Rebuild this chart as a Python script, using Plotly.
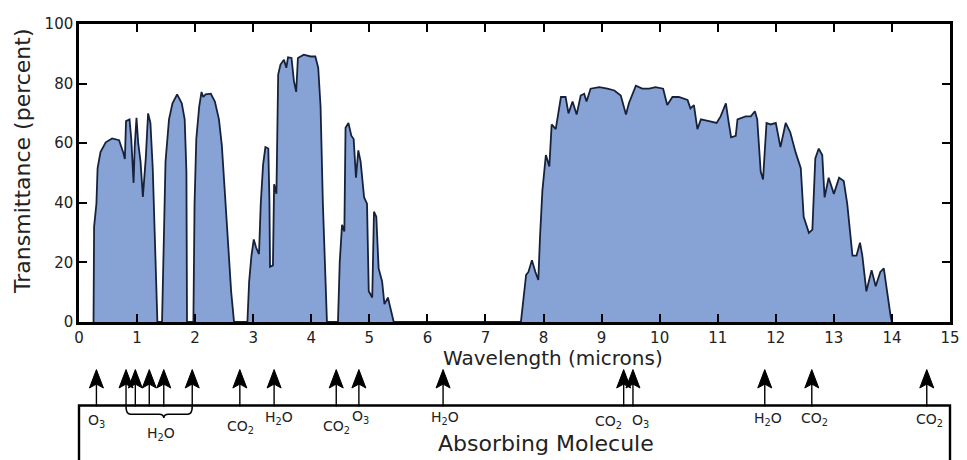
import plotly.graph_objects as go

# ---------------- data ----------------
wavelength_um = [
    0.25, 0.26, 0.30, 0.32, 0.37, 0.46, 0.57, 0.69, 0.76, 0.79, 0.81, 0.87, 0.90, 0.94, 0.96, 0.99,
    1.02, 1.06, 1.10, 1.15, 1.19, 1.23, 1.27, 1.30, 1.33, 1.35,
    1.43, 1.46, 1.49, 1.55, 1.61, 1.69, 1.77, 1.82, 1.85, 1.86,
    1.97, 1.99, 2.02, 2.07, 2.11, 2.14, 2.18, 2.27, 2.34, 2.41, 2.46, 2.51, 2.57, 2.62, 2.67,
    2.90, 2.93, 2.97, 3.01, 3.05, 3.10, 3.13, 3.17, 3.21, 3.26, 3.28, 3.29, 3.34, 3.36, 3.40,
    3.43, 3.47, 3.53, 3.57, 3.60, 3.66, 3.70, 3.74, 3.77, 3.87, 3.99, 4.07, 4.12, 4.16, 4.20,
    4.25, 4.27,
    4.46, 4.49, 4.53, 4.57, 4.59, 4.64, 4.69, 4.73, 4.77, 4.81, 4.85, 4.91, 4.96, 4.99, 5.05,
    5.08, 5.12, 5.16, 5.22, 5.26, 5.32, 5.38, 5.42,
    7.61, 7.70, 7.74, 7.80, 7.86, 7.91, 7.94, 7.98, 8.04, 8.10, 8.14, 8.21, 8.30, 8.38, 8.43,
    8.50, 8.57, 8.64, 8.70, 8.74, 8.81, 8.96, 9.10, 9.22, 9.33, 9.42, 9.47, 9.59, 9.70, 9.82,
    9.93, 10.06, 10.13, 10.22, 10.33, 10.48, 10.53, 10.59, 10.65, 10.71, 10.85, 10.98, 11.05,
    11.14, 11.19, 11.23, 11.31, 11.34, 11.48, 11.57, 11.64, 11.68, 11.74, 11.78, 11.84, 11.91,
    12.00, 12.08, 12.17, 12.25, 12.34, 12.43, 12.48, 12.57, 12.63, 12.68, 12.74, 12.80, 12.84,
    12.91, 13.00, 13.09, 13.17, 13.23, 13.32, 13.39, 13.45, 13.49, 13.56, 13.65, 13.72, 13.80,
    13.86, 13.92, 13.98, 14.00,
]
transmittance_pct = [
    0, 32, 39.7, 51.6, 57, 60.3, 61.6, 61, 57, 54.7, 67.4, 68, 61.4, 46.7, 59, 68.5,
    60, 53.8, 42, 55, 70, 66.8, 51.6, 28.8, 7, 0,
    0, 28.8, 53.8, 68, 73.4, 76.4, 73.4, 68, 50.5, 0,
    0, 39.7, 61.4, 72.3, 77.2, 75.5, 76.4, 76.6, 74, 68, 59.2, 44, 26.6, 10.3, 0,
    0, 13.6, 22.3, 27.7, 25, 22.8, 39.7, 52.7, 58.7, 58.2, 40, 18.5, 19, 46.2, 43,
    83, 86.4, 88, 85.3, 88.8, 88.6, 81, 77.2, 88.6, 89.7, 89.1, 89.1, 85.3, 72.3, 39.7,
    7, 0,
    0, 20, 32.6, 30.4, 65.2, 66.8, 62.5, 61.4, 48.4, 57.6, 53.8, 41.8, 39.7, 10.3, 8.2,
    37, 35.3, 18, 13.6, 6, 8.2, 2.7, 0,
    0, 15.8, 16.8, 20.7, 16.8, 14.1, 28.8, 44, 56, 52.2, 66.3, 64.7, 75.5, 75.5, 70,
    74, 69.6, 76, 76.6, 74, 78.3, 78.8, 78.3, 77.7, 76, 69.6, 73.4, 79.3, 78.3, 78.3,
    78.8, 78.3, 72.8, 75.5, 75.5, 74.5, 71.7, 72.8, 64.7, 68, 67.4, 66.8, 69,
    73.4, 66.8, 62, 62.5, 68, 69, 69, 70.7, 68, 50.5, 47.8, 66.8, 66.3,
    66.8, 58.7, 66.8, 63.6, 57, 51.6, 35.3, 29.9, 31, 54.9, 58.2, 56, 41.8,
    48.4, 43, 48.4, 47.3, 39.7, 22.3, 22.3, 26.6, 22.3, 10.3, 17.4, 12, 16.8,
    18, 9.2, 1.6, 0,
]

x_ticks = list(range(0, 16))
y_ticks = [0, 20, 40, 60, 80, 100]

absorber_wl = [0.30, 0.81, 0.97, 1.21, 1.46, 1.95, 2.77, 3.36, 4.43, 4.82,
               6.27, 9.38, 9.54, 11.81, 12.62, 14.60]
absorber_mol = ["O3", "H2O", "H2O", "H2O", "H2O", "H2O", "CO2", "H2O", "CO2", "O3",
                "H2O", "CO2", "O3", "H2O", "CO2", "CO2"]
h2o_group = [1, 2, 3, 4, 5]          # arrows joined by the brace
h2o_group_tip = 4                    # arrow where the brace points down

# ---------------- layout helpers ----------------
# page body has an 8px margin, so the figure is drawn 8px right/down in the window
W, H = 959, 452
ML, MR, MT, MB = 71, 16, 7, 138
WIN_PLOT_BOTTOM = 322   # window row of y=0
WIN_PLOT_LEFT = 79      # window column of x=0
PLOT_H = H - MT - MB
PLOT_W = W - ML - MR


def py(p):           # window pixel row -> paper y
    return (WIN_PLOT_BOTTOM - p) / PLOT_H


def px(p):           # window pixel column -> paper x
    return (p - WIN_PLOT_LEFT) / PLOT_W


UNIT_PX = PLOT_W / 15.0   # pixels per micron


formula = {"O3": "O<sub>3</sub>", "H2O": "H<sub>2</sub>O", "CO2": "CO<sub>2</sub>"}
# per-arrow label placement (x shift px, label row px); None = labelled by brace
label_style = [(0, 424), None, None, None, None, None, (1, 430), (5, 421), (0, 430), (2, 420),
               (2, 421), (-15, 425), (8, 424), (3, 422), (3, 422), (3, 423)]

FONT = "DejaVu Sans, Liberation Sans, Arial, sans-serif"
TXT = "#222222"

fig = go.Figure()
fig.add_trace(go.Scatter(
    x=wavelength_um, y=transmittance_pct, mode="lines",
    line=dict(color="#17223a", width=1.8),
    fill="tozeroy", fillcolor="#87a3d6", hoverinfo="skip", showlegend=False,
))

annotations = []
shapes = []

# arrows: shaft + filled notched head
head_half = 7 / UNIT_PX
for wl in absorber_wl:
    shapes.append(dict(type="line", xref="x", yref="paper", x0=wl, x1=wl,
                       y0=py(409), y1=py(386), line=dict(color="black", width=1.4)))
    head = (f"M {wl},{py(371)} L {wl + head_half},{py(390)} L {wl},{py(386)} "
            f"L {wl - head_half},{py(390)} Z")
    shapes.append(dict(type="path", path=head, xref="x", yref="paper",
                       fillcolor="black", line=dict(color="black", width=1)))

# labels
for wl, mol, st in zip(absorber_wl, absorber_mol, label_style):
    if st is None:
        continue
    dx, row = st
    annotations.append(dict(
        x=wl, y=py(row), xref="x", yref="paper", xshift=dx, text=formula[mol],
        showarrow=False, font=dict(family=FONT, size=14, color=TXT),
        xanchor="center", yanchor="middle",
    ))

# H2O brace
g0 = absorber_wl[h2o_group[0]]
g1 = absorber_wl[h2o_group[-1]]
gm = absorber_wl[h2o_group_tip]
yt, ymid, ybot = py(409), py(417), py(421)
d = 0.08
brace = (f"M {g0},{yt} Q {g0},{ymid} {g0 + d},{ymid} L {gm - d},{ymid} "
         f"Q {gm},{ymid} {gm},{ybot} Q {gm},{ymid} {gm + d},{ymid} "
         f"L {g1 - d},{ymid} Q {g1},{ymid} {g1},{yt}")
shapes.append(dict(type="path", path=brace, xref="x", yref="paper",
                   line=dict(color="black", width=1.6)))
annotations.append(dict(
    x=gm, y=py(437), xref="x", yref="paper", xshift=-3, text=formula["H2O"],
    showarrow=False, font=dict(family=FONT, size=14, color=TXT),
    xanchor="center", yanchor="middle",
))

# absorbing molecule box
shapes.append(dict(type="rect", xref="paper", yref="paper", x0=0, x1=1,
                   y0=py(408), y1=py(480), line=dict(color="black", width=2.4),
                   layer="above"))

# titles
annotations.append(dict(x=px(554), y=py(359), xref="paper", yref="paper",
                        text="Wavelength (microns)", showarrow=False,
                        xanchor="center", yanchor="middle",
                        font=dict(family=FONT, size=20, color=TXT)))
annotations.append(dict(x=px(547), y=py(447), xref="paper", yref="paper",
                        text="Absorbing Molecule", showarrow=False,
                        xanchor="center", yanchor="middle",
                        font=dict(family=FONT, size=22, color=TXT)))
annotations.append(dict(x=px(23), y=py(157), xref="paper", yref="paper",
                        text="Transmittance (percent)", showarrow=False, textangle=-90,
                        xanchor="center", yanchor="middle",
                        font=dict(family=FONT, size=22, color=TXT)))

fig.update_layout(
    width=W, height=H,
    margin=dict(l=ML, r=MR, t=MT, b=MB),
    paper_bgcolor="white", plot_bgcolor="white",
    annotations=annotations, shapes=shapes,
    xaxis=dict(range=[0, 15], tickvals=x_ticks, ticks="inside", ticklen=8, tickwidth=1.5,
               tickcolor="black", showline=True, linecolor="black", linewidth=2.5,
               mirror="ticks", showgrid=False, zeroline=False,
               tickfont=dict(family=FONT, size=15, color=TXT)),
    yaxis=dict(range=[0, 100], tickvals=y_ticks, ticks="inside", ticklen=8, tickwidth=1.5,
               tickcolor="black", showline=True, linecolor="black", linewidth=2.5,
               mirror="ticks", showgrid=False, zeroline=False,
               tickfont=dict(family=FONT, size=15, color=TXT)),
)

fig.write_html("out.html")
